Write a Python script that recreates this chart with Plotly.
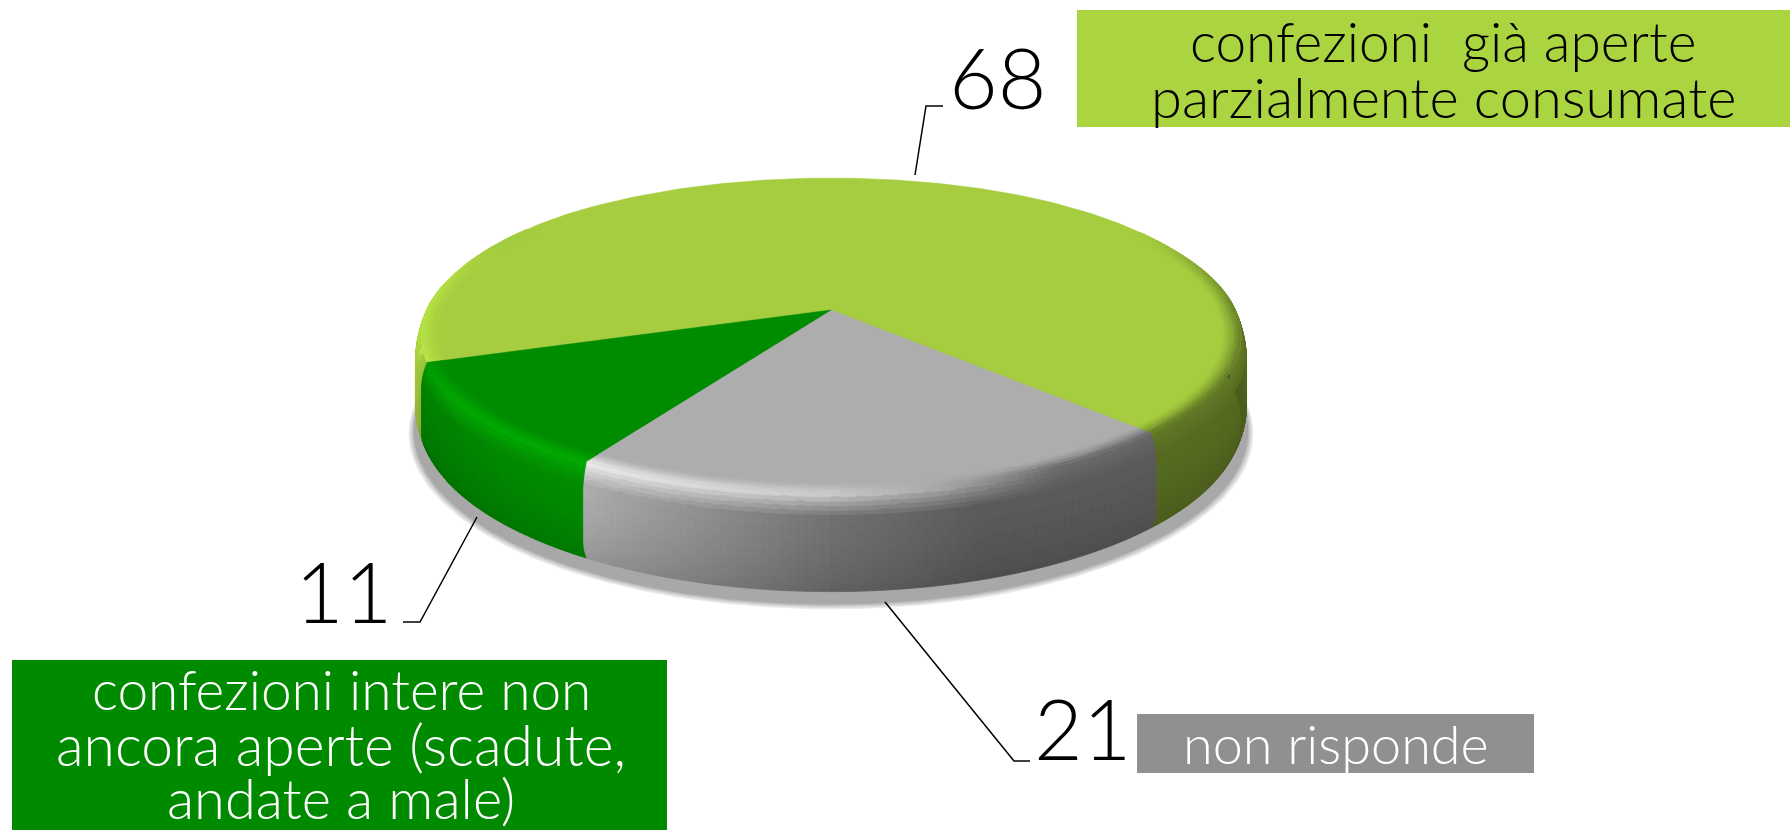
import numpy as np
import plotly.graph_objects as go
from collections import defaultdict

# --- data ---
categories = ["confezioni già aperte parzialmente consumate", "non risponde",
              "confezioni intere non ancora aperte (scadute, andate a male)"]
values = [68, 21, 11]
slice_colors = [(165, 205, 63), (173, 173, 173), (0, 140, 0)]
rim_caps = [1.4, 1.4, 1.2]
start_angle = 160.9

label_lines = [["confezioni  già aperte", "parzialmente consumate"],
               ["non risponde"],
               ["confezioni intere non", "ancora aperte (scadute,", "andate a male)"]]

FONT = "Lato"
W, H_PX = 1790, 830

# --- projection of the tilted disc ---
CX, CY, A, B, HZ, K = 831.0, 310.0, 409.7, 154.0, 83.0, 0.167


def project(r, deg, z=0.0):
    t = np.radians(deg)
    u, v = r * np.cos(t), r * np.sin(t)
    w = 1 - K * v
    return CX + A * u / w, CY + (B * v + HZ * z) / w


wall_deg = [-90, -30, 0, 45, 72, 90, 103, 121, 160, 170, 190, 270]
wall_f = [0.52, 0.52, 0.52, 0.52, 0.52, 0.65, 0.80, 1.00, 0.92, 1.00, 1.06, 1.0]
rim_deg = [-90, -32, -15, 0, 45, 62, 78, 90, 121, 160, 190, 205, 270]
rim_f = [1.0, 1.0, 0.78, 0.62, 0.58, 0.62, 0.98, 1.16, 1.34, 1.12, 1.10, 1.0, 1.0]
ROUND = 0.013


def norm(d):
    return ((d + 90) % 360) - 90


def top_radius(d):
    """radius of the flat top: slightly inset where the rounded rim faces the viewer"""
    m = norm(d)
    return 1 - ROUND * np.interp(m, [-55, -25, 195, 225], [0, 1, 1, 0])


def wall_radius(d, z):
    rt = top_radius(d)
    return 1 - (1 - rt) * (1 - min(z / 0.3, 1)) ** 2 - 0.012 * max(0.0, (z - 0.8) / 0.2) ** 2


def colour(base, f):
    return tuple(int(min(255, round(c * f / 2) * 2)) for c in base)


def add_quad(bucket, layer, base, f, pts):
    c = colour(base, f)
    xs = [p[0] for p in pts] + [pts[0][0], None]
    ys = [p[1] for p in pts] + [pts[0][1], None]
    bucket[(layer, c)][0].extend(xs)
    bucket[(layer, c)][1].extend(ys)


fig = go.Figure()

# shadow: stacked outlines of the base ellipse
angs = np.linspace(0, 360, 361)
for scale, dy, col in zip([1.016, 1.013, 1.010, 1.007, 1.004],
                          [11, 10.5, 10, 9.5, 9],
                          ["#ececec", "#dcdcdc", "#cdcdcd", "#bbbbbb", "#a8a8a8"]):
    px, py = project(scale, angs, 1.0)
    fig.add_trace(go.Scatter(x=px, y=py + dy, mode="lines", fill="toself", fillcolor=col,
                             line=dict(color=col, width=0), hoverinfo="skip"))

# slice edges derived from the values
spans = []
a0 = start_angle
for val in values:
    a1 = a0 + val / sum(values) * 360
    spans.append((a0, a1))
    a0 = a1

bucket = defaultdict(lambda: ([], []))
R_IN = 0.955
STEP = 1.0
zs = np.linspace(0, 1, 26)
for (a0, a1), base, cap in zip(spans, slice_colors, rim_caps):
    n = max(2, int((a1 - a0) / STEP))
    th = np.linspace(a0, a1, n + 1)
    for d0, d1 in zip(th[:-1], th[1:]):
        m = norm((d0 + d1) / 2)
        wf = np.interp(m, wall_deg, wall_f)
        rf = min(cap, np.interp(m, rim_deg, rim_f))
        if -30 <= m <= 200:
            for z0, z1 in zip(zs[:-1], zs[1:]):
                s = (z0 + z1) / 2
                if s < 0.22:
                    f = rf + (wf - rf) * (max(0.0, s - 0.03) / 0.19) ** 0.8
                else:
                    f = wf * (1 - 0.14 * ((s - 0.22) / 0.78) ** 1.6)
                pts = [project(wall_radius(d0, z0), d0, z0), project(wall_radius(d1, z0), d1, z0),
                       project(wall_radius(d1, z1), d1, z1), project(wall_radius(d0, z1), d0, z1)]
                add_quad(bucket, 0, base, f, pts)
        if -34 <= m <= 215:
            rs = np.linspace(R_IN, 1.0, 8)
            rt0, rt1 = top_radius(d0), top_radius(d1)
            for r0, r1 in zip(rs[:-1], rs[1:]):
                t = ((r0 + r1) / 2 - R_IN) / (1 - R_IN)
                f = 1 + (rf - 1) * t ** 1.3
                pts = [project(r0 * rt0, d0), project(r0 * rt1, d1), project(r1 * rt1, d1), project(r1 * rt0, d0)]
                add_quad(bucket, 2, base, f, pts)


def add_bucket(layer):
    for (ly, c), (xs, ys) in bucket.items():
        if ly != layer:
            continue
        col = "rgb(%d,%d,%d)" % c
        fig.add_trace(go.Scatter(x=xs, y=ys, mode="lines", fill="toself", fillcolor=col,
                                 line=dict(color=col, width=0.8), hoverinfo="skip"))


add_bucket(0)

# flat top face wedges
for (a0, a1), base in zip(spans, slice_colors):
    th = np.linspace(a0, a1, 240)
    px, py = project(np.array([top_radius(d) for d in th]), th)
    col = "rgb(%d,%d,%d)" % base
    fig.add_trace(go.Scatter(x=[CX] + list(px) + [CX], y=[CY] + list(py) + [CY], mode="lines",
                             fill="toself", fillcolor=col, line=dict(color=col, width=0.5),
                             hoverinfo="skip"))

add_bucket(2)

# leader lines
leaders = [([915, 926, 943], [175, 106, 106]),
           ([885, 1014, 1030], [602, 761, 761]),
           ([477, 420, 403], [517, 622, 622])]
for lx, ly in leaders:
    fig.add_trace(go.Scatter(x=lx, y=ly, mode="lines", line=dict(color="#000000", width=1.5),
                             hoverinfo="skip"))

# label boxes
shapes = [dict(type="rect", x0=1077, x1=1800, y0=10, y1=127, fillcolor="#aad440", line_width=0, layer="below"),
          dict(type="rect", x0=1137, x1=1534, y0=714, y1=773, fillcolor="#909090", line_width=0, layer="below"),
          dict(type="rect", x0=12, x1=667, y0=660, y1=840, fillcolor="#008a00", line_width=0, layer="below")]

ann = []


def text(x, y, s, size, color):
    ann.append(dict(x=x, y=y, text=s, showarrow=False, xanchor="center", yanchor="middle",
                    font=dict(family=FONT, size=size, color=color, weight=300)))


# value labels
text(997, 76, str(values[0]), 84, "#000000")
text(1082, 727, str(values[1]), 84, "#000000")
text(343, 590, str(values[2]), 84, "#000000")

# category labels
for s, y, size in zip(label_lines[0], [41, 96], [55, 56]):
    text(1443, y, s, size, "#000000")
text(1336, 743, label_lines[1][0], 54, "#ffffff")
for s, y, size in zip(label_lines[2], [689, 744, 797], [55, 57, 56]):
    text(341, y, s, size, "#ffffff")

fig.update_layout(width=W, height=H_PX,
                  margin=dict(l=0, r=0, t=0, b=0), showlegend=False,
                  paper_bgcolor="white", plot_bgcolor="white", shapes=shapes, annotations=ann,
                  xaxis=dict(range=[0, W], visible=False, fixedrange=True),
                  yaxis=dict(range=[H_PX, 0], visible=False, fixedrange=True))
fig.write_html("out.html", config=dict(displayModeBar=False),
               post_script="document.documentElement.style.overflow='hidden';document.body.style.margin='0';")
